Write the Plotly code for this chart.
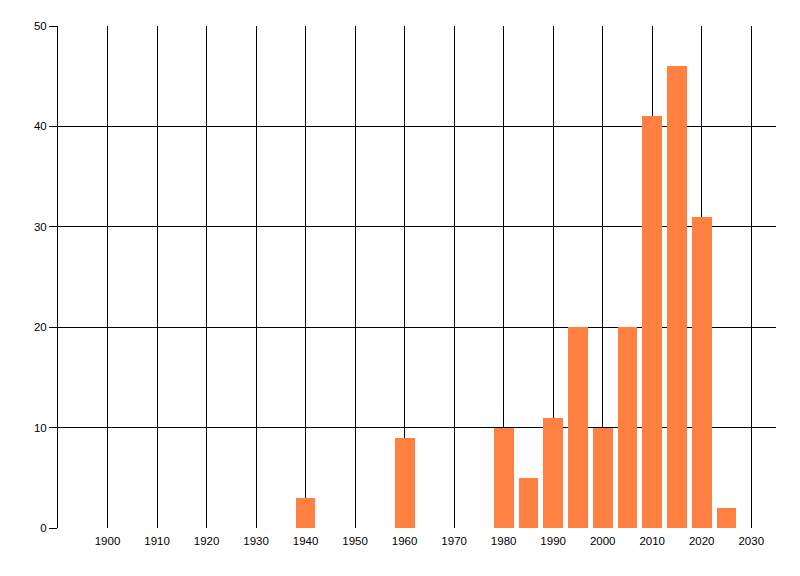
import plotly.graph_objects as go

years = [1940, 1960, 1980, 1985, 1990, 1995, 2000, 2005, 2010, 2015, 2020, 2025]
counts = [3, 9, 10, 5, 11, 20, 10, 20, 41, 46, 31, 2]

x_ticks = list(range(1900, 2031, 10))
y_ticks = [0, 10, 20, 30, 40, 50]

fig = go.Figure()
fig.add_trace(go.Bar(
    x=years,
    y=counts,
    width=4,
    marker=dict(color="#FF8040", line=dict(width=0)),
))

fig.update_xaxes(
    range=[1890, 2035],
    tickvals=x_ticks,
    ticktext=[str(t) for t in x_ticks],
    showgrid=True, gridcolor="black", gridwidth=1,
    showline=False, zeroline=False,
    ticks="", ticklabelstandoff=4,
)
fig.update_yaxes(
    range=[0, 50],
    tickvals=y_ticks,
    showgrid=True, gridcolor="black", gridwidth=1,
    showline=True, linecolor="black", linewidth=1,
    zeroline=False,
    ticks="outside", ticklen=8, tickcolor="black", tickwidth=1,
)

# page body has an 8px margin, so size the figure to fit inside it
fig.update_layout(
    width=792,
    height=568,
    showlegend=False,
    plot_bgcolor="white",
    paper_bgcolor="white",
    font=dict(family="Liberation Sans, Arial, sans-serif", size=11.5, color="black"),
    margin=dict(l=50, r=24, t=18, b=48),
    bargap=0,
)

fig.write_html("out.html")
